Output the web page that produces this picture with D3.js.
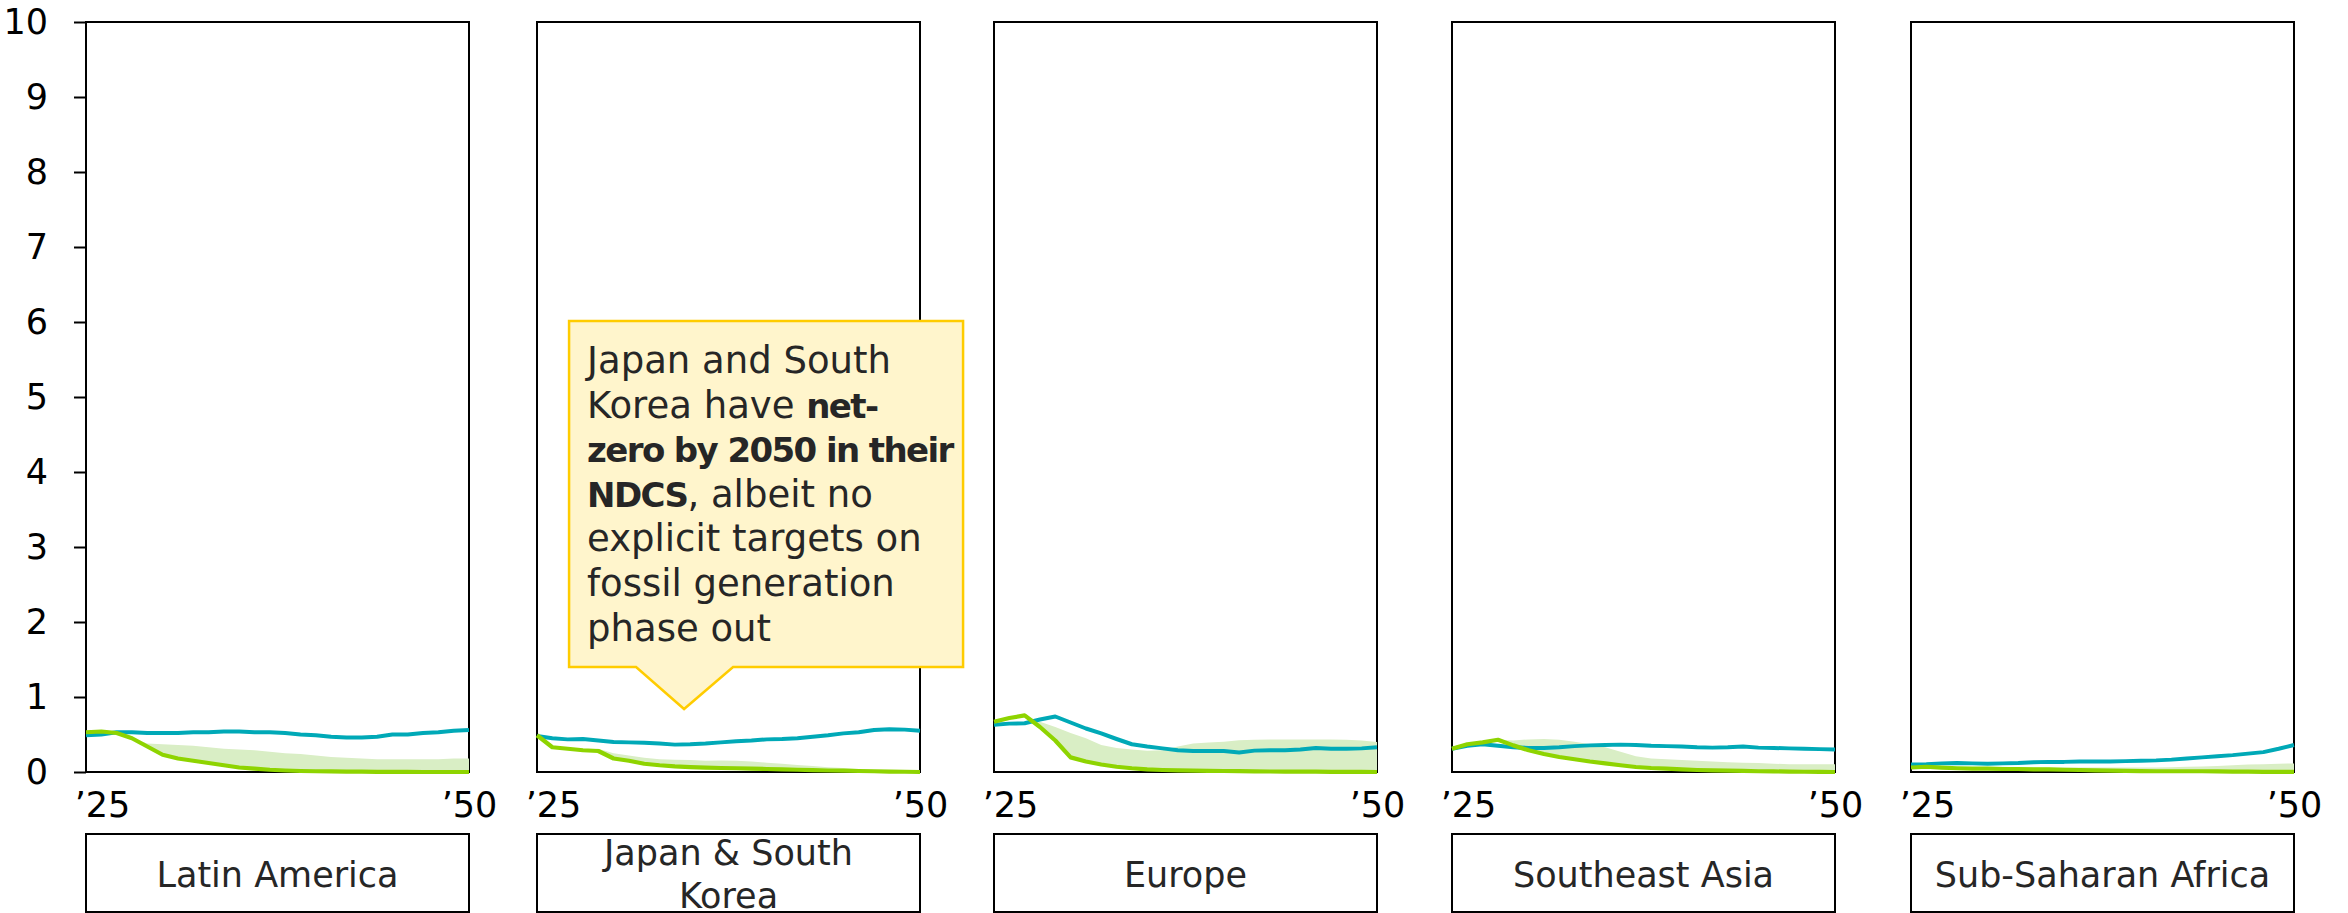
<!DOCTYPE html>
<html>
<head>
<meta charset="utf-8">
<script src="https://cdn.jsdelivr.net/npm/d3@7"></script>
<style>
  html, body { margin: 0; padding: 0; background: #fff; }
  svg { display: block; }
  text { font-family: "Century Gothic", "URW Gothic", "DejaVu Sans", sans-serif; }
</style>
</head>
<body>
<svg id="chart" width="2348" height="913"></svg>
<script>
// Years on the horizontal axis of every small multiple
const years = d3.range(2025, 2051);

const regions = ["Latin America", "Japan & South Korea", "Europe", "Southeast Asia", "Sub-Saharan Africa"];
const regionLabelLines = [["Latin America"], ["Japan & South", "Korea"], ["Europe"], ["Southeast Asia"], ["Sub-Saharan Africa"]];

const yTicks = [0, 1, 2, 3, 4, 5, 6, 7, 8, 9, 10];
const xTickYears = [2025, 2050];
const xTickLabels = ["\u201925", "\u201950"];

// Blue series, one array per region (2025..2050)
const blueLatinAmerica = [0.49,0.50,0.53,0.53,0.52,0.52,0.52,0.53,0.53,0.54,0.54,0.53,0.53,0.52,0.50,0.49,0.47,0.46,0.46,0.47,0.50,0.50,0.52,0.53,0.55,0.56];
const blueJapanKorea   = [0.48,0.45,0.435,0.44,0.42,0.40,0.395,0.39,0.38,0.365,0.37,0.38,0.395,0.41,0.42,0.435,0.44,0.45,0.47,0.49,0.515,0.53,0.56,0.57,0.565,0.55];
const blueEurope       = [0.63,0.645,0.65,0.70,0.74,0.66,0.58,0.515,0.44,0.37,0.34,0.315,0.29,0.28,0.28,0.28,0.26,0.285,0.29,0.29,0.30,0.32,0.31,0.31,0.315,0.33];
const blueSEAsia       = [0.31,0.35,0.37,0.35,0.33,0.32,0.32,0.33,0.345,0.355,0.36,0.365,0.36,0.35,0.345,0.34,0.33,0.325,0.33,0.34,0.325,0.32,0.315,0.31,0.305,0.30];
const blueSSAfrica     = [0.10,0.105,0.115,0.12,0.115,0.11,0.115,0.12,0.13,0.135,0.135,0.14,0.14,0.14,0.145,0.15,0.155,0.165,0.18,0.195,0.21,0.225,0.245,0.265,0.31,0.36];

// Green series, one array per region
const greenLatinAmerica = [0.53,0.54,0.52,0.45,0.34,0.23,0.18,0.15,0.12,0.09,0.06,0.045,0.03,0.02,0.013,0.01,0.008,0.006,0.004,0.003,0.002,0.001,0,0,0,0];
const greenJapanKorea   = [0.49,0.33,0.31,0.29,0.28,0.18,0.15,0.11,0.09,0.075,0.065,0.058,0.053,0.05,0.045,0.04,0.035,0.03,0.025,0.02,0.018,0.013,0.01,0.005,0.003,0];
const greenEurope       = [0.67,0.72,0.755,0.60,0.42,0.195,0.14,0.10,0.07,0.05,0.035,0.027,0.022,0.018,0.015,0.013,0.011,0.009,0.007,0.006,0.005,0.004,0.003,0.002,0.001,0];
const greenSEAsia       = [0.31,0.37,0.395,0.43,0.355,0.29,0.24,0.20,0.17,0.14,0.115,0.09,0.067,0.053,0.045,0.035,0.027,0.022,0.018,0.014,0.01,0.008,0.005,0.003,0.001,0];
const greenSSAfrica     = [0.06,0.07,0.058,0.05,0.045,0.045,0.04,0.04,0.035,0.035,0.03,0.027,0.022,0.018,0.015,0.012,0.01,0.01,0.01,0.01,0.008,0.006,0.004,0.003,0.002,0.001];

// Upper edge of the shaded range above the green series
const rangeLatinAmerica = [0.53,0.54,0.52,0.45,0.38,0.37,0.36,0.35,0.33,0.31,0.30,0.29,0.27,0.25,0.24,0.22,0.20,0.19,0.18,0.17,0.17,0.17,0.17,0.17,0.18,0.18];
const rangeJapanKorea   = [0.49,0.33,0.31,0.29,0.31,0.25,0.22,0.19,0.17,0.165,0.16,0.15,0.155,0.15,0.14,0.125,0.11,0.095,0.08,0.065,0.055,0.04,0.027,0.013,0.008,0];
const rangeEurope       = [0.67,0.72,0.755,0.67,0.60,0.52,0.45,0.36,0.32,0.30,0.285,0.29,0.34,0.38,0.395,0.405,0.425,0.43,0.435,0.435,0.435,0.435,0.435,0.43,0.42,0.40];
const rangeSEAsia       = [0.31,0.37,0.395,0.43,0.42,0.435,0.44,0.43,0.405,0.37,0.33,0.27,0.21,0.18,0.17,0.16,0.15,0.14,0.13,0.125,0.12,0.11,0.105,0.105,0.105,0.105];
const rangeSSAfrica     = [0.06,0.07,0.065,0.065,0.065,0.07,0.07,0.065,0.065,0.06,0.06,0.06,0.06,0.06,0.06,0.06,0.06,0.065,0.07,0.075,0.08,0.09,0.10,0.105,0.11,0.115];

const blueSeries  = [blueLatinAmerica, blueJapanKorea, blueEurope, blueSEAsia, blueSSAfrica];
const greenSeries = [greenLatinAmerica, greenJapanKorea, greenEurope, greenSEAsia, greenSSAfrica];
const rangeSeries = [rangeLatinAmerica, rangeJapanKorea, rangeEurope, rangeSEAsia, rangeSSAfrica];

// Layout
const panelLeft = [86, 537, 994, 1452, 1911];
const panelWidth = 383;
const plotTop = 22, plotBottom = 772;
const labelTop = 834, labelHeight = 78;

const colors = {
  blue: "#00A9B7",
  green: "#8ED400",
  range: "#D9EEC5",
  noteFill: "#FFF5CC",
  noteStroke: "#FFCC00",
  text: "#262626"
};

const svg = d3.select("#chart");
const y = d3.scaleLinear().domain([0, 10]).range([plotBottom, plotTop]);

// Shared y axis on the first panel
const yAxis = d3.axisLeft(y).tickValues(yTicks).tickSize(12).tickPadding(26).tickFormat(d3.format("d"));
const yg = svg.append("g").attr("transform", `translate(${panelLeft[0]},0)`).call(yAxis);
yg.select(".domain").remove();
yg.selectAll(".tick line").attr("stroke", "#000").attr("stroke-width", 2);
yg.selectAll(".tick text").attr("font-size", 35).attr("fill", "#000");

regions.forEach((name, i) => {
  const x0 = panelLeft[i];
  const x = d3.scaleLinear().domain([2025, 2050]).range([x0, x0 + panelWidth]);
  const g = svg.append("g").attr("class", "panel");

  // frame
  g.append("rect")
    .attr("x", x0).attr("y", plotTop)
    .attr("width", panelWidth).attr("height", plotBottom - plotTop)
    .attr("fill", "none").attr("stroke", "#000").attr("stroke-width", 2);

  const rows = years.map((yr, k) => ({ yr, blue: blueSeries[i][k], green: greenSeries[i][k], hi: rangeSeries[i][k] }));

  g.append("path").datum(rows)
    .attr("fill", colors.range)
    .attr("d", d3.area().x(d => x(d.yr)).y0(d => y(d.green)).y1(d => y(Math.max(d.hi, d.green))));

  g.append("path").datum(rows)
    .attr("fill", "none").attr("stroke", colors.blue).attr("stroke-width", 4)
    .attr("stroke-linejoin", "round")
    .attr("d", d3.line().x(d => x(d.yr)).y(d => y(d.blue)));

  g.append("path").datum(rows)
    .attr("fill", "none").attr("stroke", colors.green).attr("stroke-width", 4.2)
    .attr("stroke-linejoin", "round")
    .attr("d", d3.line().x(d => x(d.yr)).y(d => y(d.green)));

  // x tick labels
  const xAxis = d3.axisBottom(x).tickValues(xTickYears).tickSize(0).tickPadding(0)
    .tickFormat((d, k) => xTickLabels[k]);
  const xg = g.append("g").attr("transform", `translate(0,${plotBottom})`).call(xAxis);
  xg.select(".domain").remove();
  xg.selectAll(".tick text")
    .attr("font-size", 35).attr("fill", "#000")
    .attr("dy", null).attr("y", 45)
    .attr("dx", (d, k) => k === 0 ? 16 : 0);

  // region label box
  g.append("rect")
    .attr("x", x0).attr("y", labelTop)
    .attr("width", panelWidth).attr("height", labelHeight)
    .attr("fill", "#fff").attr("stroke", "#000").attr("stroke-width", 2);
  const lines = regionLabelLines[i];
  const lt = g.append("text")
    .attr("text-anchor", "middle").attr("font-size", 35).attr("fill", colors.text);
  lines.forEach((ln, k) => {
    lt.append("tspan")
      .attr("x", x0 + panelWidth / 2)
      .attr("y", lines.length === 1 ? labelTop + 53 : labelTop + 31 + k * 43)
      .text(ln);
  });

  // callout on the Japan & South Korea panel
  if (name === "Japan & South Korea") {
    const tipX = x(2034.6), tipY = y(0.84);
    const left = tipX - 115, right = tipX + 279, top = tipY - 388, bottom = tipY - 42;
    const path = d3.path();
    path.moveTo(left, top);
    path.lineTo(right, top);
    path.lineTo(right, bottom);
    path.lineTo(tipX + 49, bottom);
    path.lineTo(tipX, tipY);
    path.lineTo(tipX - 48, bottom);
    path.lineTo(left, bottom);
    path.closePath();
    const note = svg.append("g").attr("class", "note");
    note.append("path").attr("d", path.toString())
      .attr("fill", colors.noteFill).attr("stroke", colors.noteStroke).attr("stroke-width", 2.5);
    const noteLines = [
      [["Japan and South", false]],
      [["Korea have ", false], ["net-", true]],
      [["zero by 2050 in their", true]],
      [["NDCS", true], [", albeit no", false]],
      [["explicit targets on", false]],
      [["fossil generation", false]],
      [["phase out", false]]
    ];
    const nt = note.append("text").attr("font-size", 37).attr("fill", colors.text);
    noteLines.forEach((parts, k) => {
      parts.forEach(([txt, bold], j) => {
        const ts = nt.append("tspan")
          .attr("font-weight", bold ? "bold" : "normal")
          .attr("font-size", bold ? 34 : 37)
          .attr("letter-spacing", bold ? -1.6 : 0)
          .text(txt);
        if (j === 0) ts.attr("x", left + 18).attr("y", top + 52 + k * 44.6);
      });
    });
  }
});
</script>
</body>
</html>
